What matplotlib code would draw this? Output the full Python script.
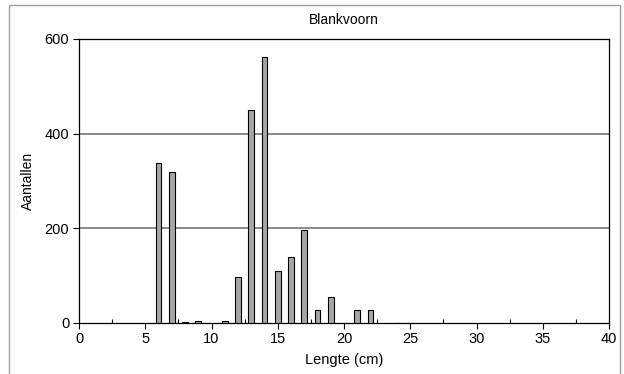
import matplotlib
matplotlib.use("Agg")
import matplotlib.pyplot as plt
from matplotlib.patches import Rectangle

plt.rcParams['font.family'] = ['Liberation Sans', 'DejaVu Sans']

lengths = [6, 7, 8, 9, 11, 12, 13, 14, 15, 16, 17, 18, 19, 20, 21, 22, 24, 25]
counts = [338, 320, 2, 5, 4, 97, 451, 561, 110, 139, 196, 27, 55, 1, 28, 27, 1, 1]
title = "Blankvoorn"
xlabel = "Lengte (cm)"
ylabel = "Aantallen"

fig = plt.figure(figsize=(6.24, 3.74), dpi=100)
ax = fig.add_axes([79/624, 1-323/374, 530/624, 284/374])

ax.bar(lengths, counts, width=0.45, color='#a6a6a6', edgecolor='black', linewidth=0.8, zorder=3)
ax.set_xlim(0, 40)
ax.set_ylim(0, 600)
ax.set_xticks(range(0, 41, 5))
ax.set_xticks([2.5 + 5*i for i in range(8)], minor=True)
ax.set_yticks([0, 200, 400, 600])
for y in (200, 400):
    ax.axhline(y, color='#808080', linewidth=1.3, zorder=1)
for s in ax.spines.values():
    s.set_color('black')
    s.set_linewidth(0.9)
ax.tick_params(axis='both', which='major', direction='out', length=4, width=0.8, labelsize=10.5, colors='black')
ax.tick_params(axis='x', which='major', pad=2.5)
ax.tick_params(axis='y', which='major', pad=3)
ax.tick_params(axis='x', which='minor', direction='in', length=3, width=0.8)
ax.set_title(title, fontsize=10, pad=11)
ax.set_xlabel(xlabel, fontsize=10.5, labelpad=5)
ax.set_ylabel(ylabel, fontsize=10, labelpad=7)

fig.patches.append(Rectangle((9/624, -0.1), 611/624, 1.1 - 5/374, transform=fig.transFigure,
                             fill=False, edgecolor='#a0a0a0', linewidth=1.0))

fig.savefig("out.png", dpi=100)
